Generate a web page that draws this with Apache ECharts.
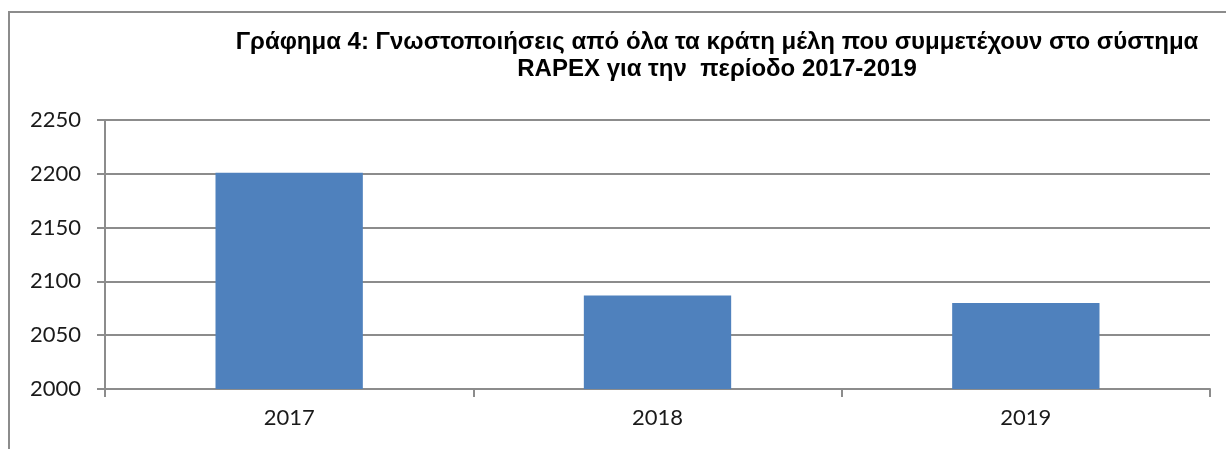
<!DOCTYPE html>
<html><head><meta charset="utf-8">
<script src="https://cdn.jsdelivr.net/npm/echarts@6/dist/echarts.min.js"></script>
<style>html,body{margin:0;padding:0;background:#fff}#c{width:1226px;height:449px}</style>
</head><body><div id="c"></div>
<script>
const categories = ['2017', '2018', '2019'];
const notifications = [2201, 2087, 2080];
const yTicks = [2000, 2050, 2100, 2150, 2200, 2250];
const titleLine1 = 'Γράφημα 4: Γνωστοποιήσεις από όλα τα κράτη μέλη που συμμετέχουν στο σύστημα';
const titleLine2 = 'RAPEX για την  περίοδο 2017-2019';

const chart = echarts.init(document.getElementById('c'));
chart.setOption({
  animation: false,
  backgroundColor: '#fff',
  graphic: [{
    type: 'polyline',
    shape: { points: [[9, 460], [9, 12], [1240, 12]] },
    style: { stroke: '#8c8c8c', lineWidth: 2, fill: null }
  }],
  title: {
    text: titleLine1 + '\n' + titleLine2,
    left: 712, top: 24, textAlign: 'center',
    textStyle: { fontFamily: 'Liberation Sans', fontWeight: 'bold', fontSize: 24, lineHeight: 27, color: '#000' }
  },
  grid: { left: 105, right: 16, top: 120, bottom: 60 },
  xAxis: {
    type: 'category', data: categories,
    axisLine: { lineStyle: { color: '#8c8c8c', width: 2 } },
    axisTick: { show: true, length: 8, lineStyle: { color: '#8c8c8c', width: 2 } },
    axisLabel: { fontFamily: 'Lato', fontSize: 22, color: '#1a1a1a', margin: 18 }
  },
  yAxis: {
    type: 'value', min: yTicks[0], max: yTicks[yTicks.length - 1], interval: 50,
    axisLine: { show: true, lineStyle: { color: '#8c8c8c', width: 2 } },
    axisTick: { show: true, length: 8, lineStyle: { color: '#8c8c8c', width: 2 } },
    splitLine: { lineStyle: { color: '#8c8c8c', width: 2 } },
    axisLabel: { fontFamily: 'Lato', fontSize: 22, color: '#1a1a1a', margin: 24, formatter: v => String(v) }
  },
  series: [{
    type: 'bar', data: notifications, barWidth: '40%',
    itemStyle: { color: '#4f81bd' }
  }]
});
</script></body></html>
